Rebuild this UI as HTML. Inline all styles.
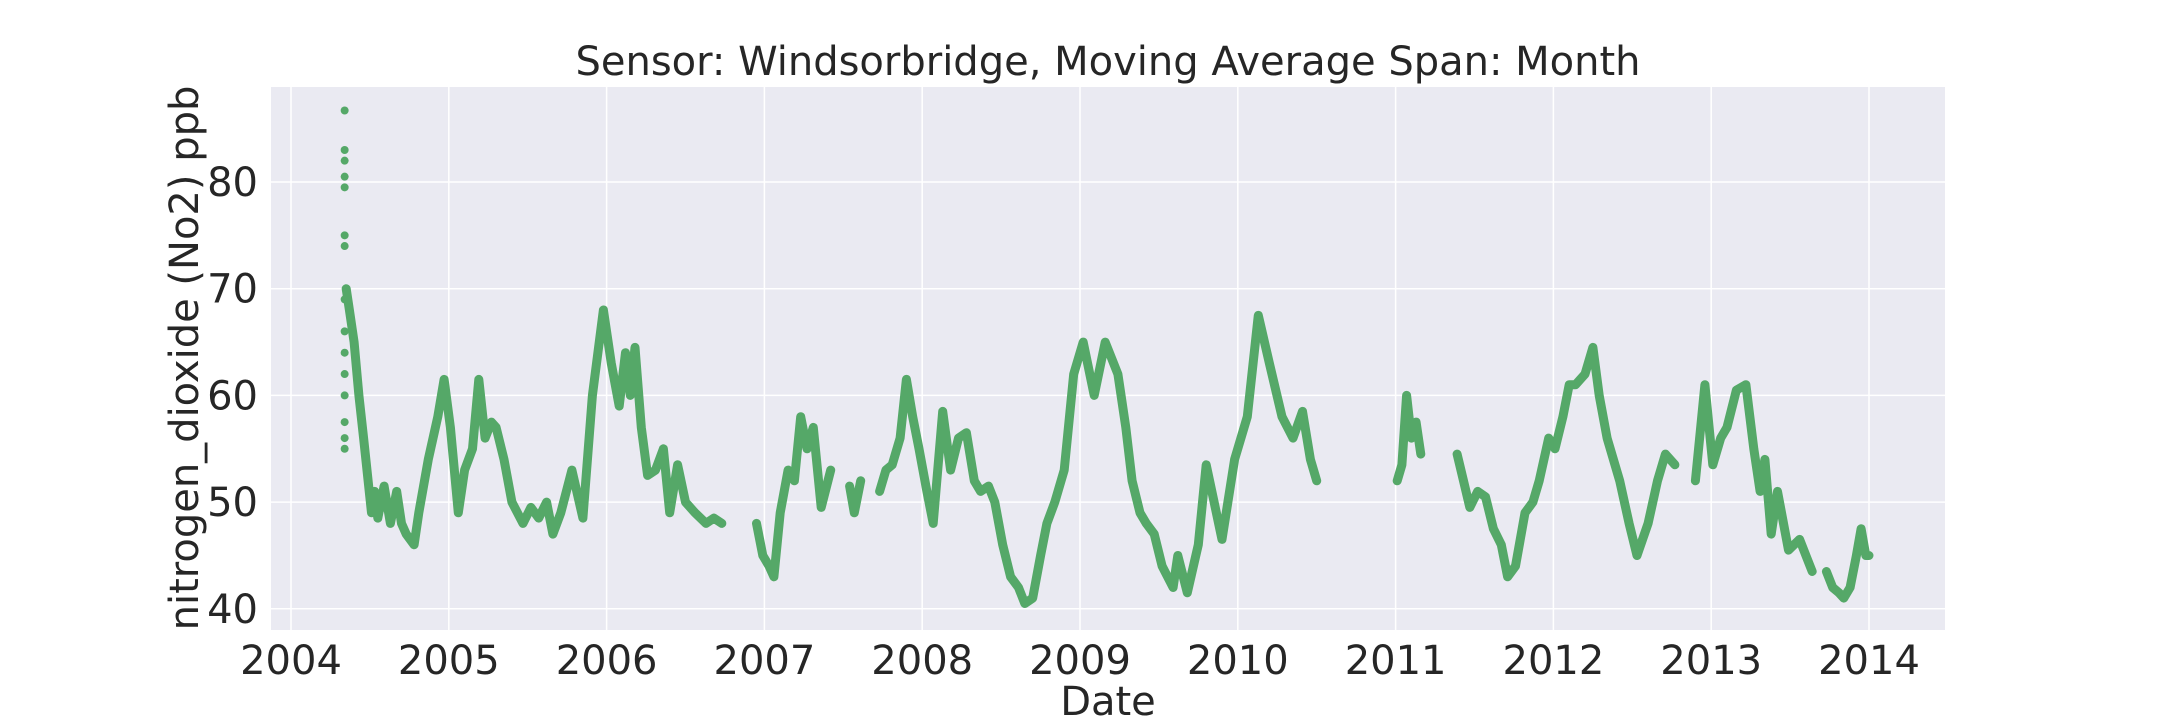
<!DOCTYPE html>
<html><head><meta charset="utf-8"><style>
body{margin:0;background:#fff;}
svg{display:block;font-family:"DejaVu Sans","Liberation Sans",sans-serif;}
</style></head><body>
<svg id="chart" width="2160" height="720" viewBox="0 0 2160 720" xmlns="http://www.w3.org/2000/svg">
<rect x="271" y="87" width="1674" height="543" fill="#eaeaf2"/>
<g id="grid"></g><g id="series"></g><g id="ticks"></g>
<text x="1108" y="75" font-size="40" text-anchor="middle" fill="#262626">Sensor: Windsorbridge, Moving Average Span: Month</text>
<text x="1108" y="715" font-size="40" text-anchor="middle" fill="#262626">Date</text>
<text transform="translate(198,358) rotate(-90)" font-size="40" text-anchor="middle" fill="#262626">nitrogen_dioxide (No2) ppb</text>
</svg>
<script>
const xTicks=[2004,2005,2006,2007,2008,2009,2010,2011,2012,2013,2014];
const yTicks=[40,50,60,70,80];
const scatterDates=[2004.34,2004.34,2004.34,2004.34,2004.34,2004.34,2004.34,2004.34,2004.34,2004.34,2004.34,2004.34,2004.34,2004.34,2004.34];
const scatterValues=[55,56,57.5,60,62,64,66,69,74,75,79.5,80.5,82,83,86.7];
const dates=[2004.35,2004.37,2004.40,2004.43,2004.46,2004.51,2004.53,2004.55,2004.59,2004.63,2004.67,2004.70,2004.73,2004.78,2004.81,2004.87,2004.93,2004.97,2005.01,2005.06,2005.10,2005.15,2005.19,2005.23,2005.27,2005.30,2005.35,2005.40,2005.47,2005.52,2005.57,2005.62,2005.66,2005.71,2005.78,2005.85,2005.91,2005.98,2006.03,2006.08,2006.12,2006.15,2006.18,2006.22,2006.26,2006.31,2006.36,2006.40,2006.45,2006.50,2006.56,2006.63,2006.68,2006.73,null,
2006.95,2006.99,2007.03,2007.06,2007.10,2007.15,2007.19,2007.23,2007.27,2007.31,2007.36,2007.42,null,2007.54,2007.57,2007.61,null,
2007.73,2007.77,2007.81,2007.86,2007.90,2007.94,2007.98,2008.03,2008.07,2008.13,2008.18,2008.23,2008.28,2008.33,2008.37,2008.42,2008.46,2008.51,2008.56,2008.61,2008.65,2008.70,2008.75,2008.79,2008.84,2008.90,2008.96,2009.02,2009.09,2009.16,2009.24,2009.29,2009.33,2009.38,2009.42,2009.47,2009.52,2009.59,2009.62,2009.68,2009.75,2009.80,2009.85,2009.90,2009.98,2010.06,2010.13,2010.20,2010.28,2010.35,2010.41,2010.46,2010.50,null,
2011.01,2011.04,2011.07,2011.10,2011.13,2011.16,null,2011.39,2011.43,2011.47,2011.52,2011.57,2011.62,2011.67,2011.71,2011.76,2011.82,2011.87,2011.91,2011.97,2012.01,2012.06,2012.10,2012.14,2012.20,2012.25,2012.29,2012.34,2012.42,2012.48,2012.53,2012.60,2012.66,2012.71,2012.77,null,
2012.90,2012.96,2013.01,2013.06,2013.10,2013.16,2013.22,2013.27,2013.31,2013.34,2013.38,2013.42,2013.49,2013.56,2013.60,2013.64,null,
2013.73,2013.77,2013.81,2013.84,2013.88,2013.92,2013.95,2013.98,2014.00];
const values=[70,68,65,60,56,49,51,48.5,51.5,48,51,48,47,46,49,54,58,61.5,57,49,53,55,61.5,56,57.5,57,54,50,48,49.5,48.5,50,47,49,53,48.5,60,68,63,59,64,60,64.5,57,52.5,53,55,49,53.5,50,49,48,48.5,48,null,
48,45,44,43,49,53,52,58,55,57,49.5,53,null,51.5,49,52,null,
51,53,53.5,56,61.5,58,55,51,48,58.5,53,56,56.5,52,51,51.5,50,46,43,42,40.5,41,45,48,50,53,62,65,60,65,62,57,52,49,48,47,44,42,45,41.5,46,53.5,50,46.5,54,58,67.5,63,58,56,58.5,54,52,null,
52,53.5,60,56,57.5,54.5,null,54.5,52,49.5,51,50.5,47.5,46,43,44,49,50,52,56,55,58,61,61,62,64.5,60,56,52,48,45,48,52,54.5,53.5,null,
52,61,53.5,56,57,60.5,61,55,51,54,47,51,45.5,46.5,45,43.5,null,
43.5,42,41.5,41,42,45,47.5,45,45];
const X=y=>291+(y-2004)*157.8;
const Y=v=>182+(80-v)*10.67;
const NS="http://www.w3.org/2000/svg";
const g=document.getElementById('grid'),s=document.getElementById('series'),t=document.getElementById('ticks');
function mk(tag,attrs,parent){const e=document.createElementNS(NS,tag);for(const k in attrs)e.setAttribute(k,attrs[k]);parent.appendChild(e);return e;}
xTicks.forEach(v=>{
 const l=mk('line',{x1:X(v),x2:X(v),y1:87,y2:630,stroke:'#fff','stroke-width':1.5},g);
 
 
 const tx=mk('text',{x:X(v),y:674,'font-size':40,'text-anchor':'middle',fill:'#262626'},t);
 tx.textContent=v;
 
 
});
yTicks.forEach(v=>{
 const l=mk('line',{x1:271,x2:1945,y1:Y(v),y2:Y(v),stroke:'#fff','stroke-width':1.5},g);
 
 
 const tx=mk('text',{x:258,y:Y(v)+14,'font-size':40,'text-anchor':'end',fill:'#262626'},t);
 tx.textContent=v;
 
 
});
let seg=[];
function flush(){if(seg.length){const p=mk('polyline',{points:seg.join(' '),fill:'none',stroke:'#55a868','stroke-width':9,'stroke-linejoin':'round','stroke-linecap':'round'},s);
 
 }seg=[];}
for(let i=0;i<dates.length;i++){if(dates[i]===null||values[i]===null){flush();continue;}seg.push(X(dates[i]).toFixed(1)+','+Y(values[i]).toFixed(1));}
flush();
scatterDates.forEach((d,i)=>{const c=mk('circle',{cx:X(d),cy:Y(scatterValues[i]),r:4,fill:'#55a868'},s);
 
 });
</script>
</body></html>
